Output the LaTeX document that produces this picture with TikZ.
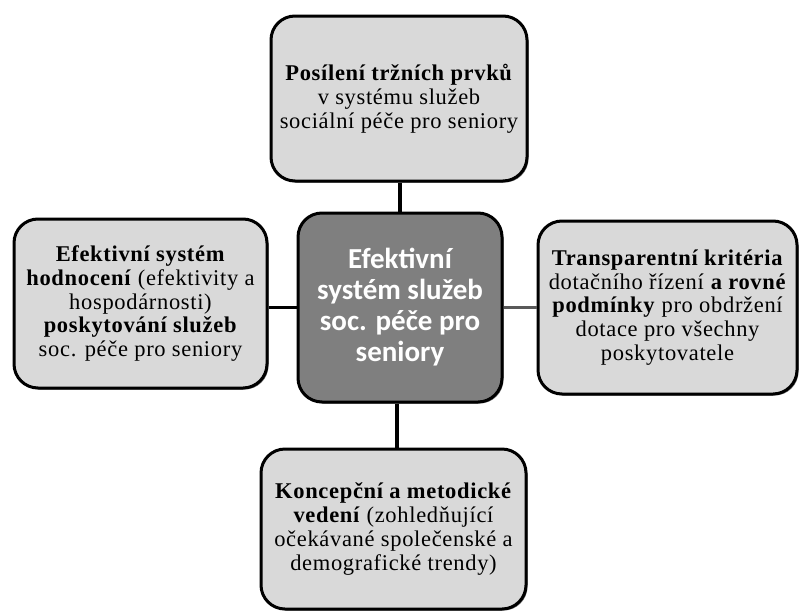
\documentclass[tikz,border=0pt]{standalone}
\usepackage{fontspec}
\setmainfont{Liberation Serif}[LetterSpace=3]
\newfontfamily\calib{Carlito}
\usetikzlibrary{shadows}
\definecolor{boxgray}{HTML}{D9D9D9}
\definecolor{centergray}{HTML}{7F7F7F}
\tikzset{
  outerbox/.style={draw=black, line width=3pt, rounded corners=24pt, fill=boxgray,
    align=center, inner sep=0pt, font=\fontsize{22.5}{23.8}\selectfont,
    drop shadow={shadow xshift=1.5pt, shadow yshift=-1.5pt, fill=black!70, opacity=0.8}},
  centerbox/.style={draw=black, line width=3pt, rounded corners=24pt, fill=centergray,
    align=center, inner sep=0pt, text=white, font=\calib\bfseries\fontsize{29}{31}\selectfont,
    drop shadow={shadow xshift=1.5pt, shadow yshift=-1.5pt, fill=black!70, opacity=0.8}},
  link/.style={line width=3.5pt, draw=black},
}
\begin{document}
\begin{tikzpicture}[x=1pt, y=-1pt]
\useasboundingbox (0,0) rectangle (799,613);
\node[outerbox, minimum width=256pt, minimum height=165pt] (top) at (399,98.5)
  {\textbf{Posílení tržních prvků}\\ v systému služeb\\ sociální péče pro seniory};
\node[outerbox, minimum width=253pt, minimum height=169pt] (left) at (140.5,303.5)
  {\textbf{Efektivní systém}\\ \textbf{hodnocení} (efektivity a\\ hospodárnosti)\\ \textbf{poskytování služeb}\\ soc. péče pro seniory};
\node[outerbox, minimum width=259pt, minimum height=173pt] (right) at (667.5,307.5)
  {\textbf{Transparentní kritéria}\\ dotačního řízení \textbf{a rovné}\\ \textbf{podmínky} pro obdržení\\ dotace pro všechny\\ poskytovatele};
\node[outerbox, minimum width=265pt, minimum height=160pt] (bottom) at (393.5,529)
  {\textbf{Koncepční a metodické}\\ \textbf{vedení} (zohledňující\\ očekávané společenské a\\ demografické trendy)};
\node[centerbox, minimum width=204pt, minimum height=189pt] (center) at (400,307.5)
  {Efektivní\\ systém služeb\\ soc. péče pro\\ seniory};
\draw[link] (top.south -| center.north) -- (center.north);
\draw[link] (left.east |- center.west) -- (center.west);
\draw[link, draw=black!65] (center.east) -- (right.west |- center.east);
\draw[link] (center.south -| 397,0) -- (bottom.north -| 397,0);
\end{tikzpicture}
\end{document}
